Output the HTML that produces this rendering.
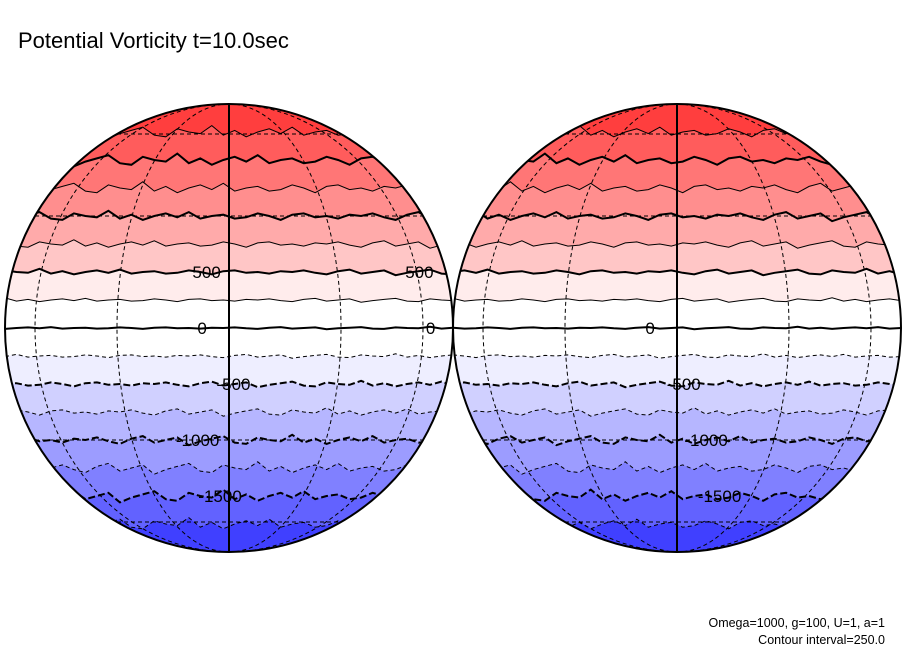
<!DOCTYPE html>
<html><head><meta charset="utf-8"><style>
body{margin:0;background:#fff;}
svg{display:block;font-family:"Liberation Sans",sans-serif;}
</style></head><body>
<svg id="chart" width="904" height="654" viewBox="0 0 904 654">
<text x="18" y="48" font-size="22" fill="#000">Potential Vorticity t=10.0sec</text>
<text x="885" y="627" font-size="12.5" text-anchor="end">Omega=1000, g=100, U=1, a=1</text>
<text x="885" y="644" font-size="12.5" text-anchor="end">Contour interval=250.0</text>
<g id="globes"></g>
</svg>
<script>
// contour levels (PV) and band fill colors (band above each level)
const levels = [1750,1500,1250,1000,750,500,250,0,-250,-500,-750,-1000,-1250,-1500,-1750];
const bandColors = ["#ff3e3e","#ff5c5c","#ff7676","#ff8e8e","#ffaaaa","#ffc6c6","#ffecec","#ffffff","#ffffff","#eeeeff","#d0d0ff","#b6b6ff","#9c9cff","#8080ff","#6262ff","#4040ff"];
const wiggle = [0,-2,1,3,-1,-3,2,0,-2,4,1,-1,-3,2,3,-2,0,1,-4,2,-1,3,0,-2,1,-3,2,0,-1,2,1,-2,0,3,-1,-2,1,0,2,-1];
const labels = [
 {g:0,text:"500",lon:-0.1,lev:500},{g:0,text:"500",lon:0.85,lev:500},
 {g:0,text:"0",lon:-0.12,lev:0},{g:0,text:"0",lon:0.9,lev:0},
 {g:0,text:"-500",lon:0.02,lev:-500},{g:0,text:"-1000",lon:-0.14,lev:-1000},{g:0,text:"-1500",lon:-0.04,lev:-1500},
 {g:1,text:"0",lon:-0.12,lev:0},{g:1,text:"-500",lon:0.03,lev:-500},
 {g:1,text:"-1000",lon:0.13,lev:-1000},{g:1,text:"-1500",lon:0.19,lev:-1500}
];
const pvMax = 2000;
const centers = [229, 677];
const cy = 328, R = 224;
const NS = "http://www.w3.org/2000/svg";
function yOf(lev){ return cy - R*lev/pvMax; }
function el(tag, attrs){ const e=document.createElementNS(NS,tag); for(const k in attrs) e.setAttribute(k,attrs[k]); return e; }
const root = document.getElementById('globes');
centers.forEach((cx, gi) => {
  const g = el('g',{});
  
  
  const cp = el('clipPath',{id:'clip'+gi});
  cp.appendChild(el('circle',{cx:cx,cy:cy,r:R}));
  g.appendChild(cp);
  const inner = el('g',{'clip-path':'url(#clip'+gi+')'});
  g.appendChild(inner);
  const bg = el('rect',{x:cx-R,y:cy-R,width:2*R,height:2*R,fill:bandColors[0]});
  
  
  inner.appendChild(bg);
  const paths = [];
  levels.forEach((lev, li) => {
    const amp = lev === 0 ? 0.3 : Math.min(1.6, 0.3 + Math.abs(lev)/1000);
    const pts = [];
    const n = wiggle.length;
    for (let i=0;i<n;i++){
      const x = cx - R + (2*R)*i/(n-1);
      const w = wiggle[(i + li*3 + gi*7) % n];
      pts.push([x, yOf(lev) + w*amp]);
    }
    const d = pts.map((p,i)=>(i?'L':'M')+p[0].toFixed(1)+' '+p[1].toFixed(1)).join(' ');
    const fill = el('path',{d: d + ` L${cx+R} ${cy+R+2} L${cx-R} ${cy+R+2} Z`, fill: bandColors[li+1]});
    
    
    inner.appendChild(fill);
    paths.push({d, lev});
  });
  [-60,-30,30,60].forEach(lat => {
    const y = cy - R*Math.sin(lat*Math.PI/180);
    const hw = R*Math.cos(lat*Math.PI/180);
    const ln = el('line',{x1:cx-hw,x2:cx+hw,y1:y,y2:y,stroke:'#000','stroke-width':1,'stroke-dasharray':'4,3'});
    
    
    inner.appendChild(ln);
  });
  [-60,-30,30,60].forEach(lon => {
    const rx = Math.abs(R*Math.sin(lon*Math.PI/180));
    const sweep = lon>0?1:0;
    const m = el('path',{d:`M${cx} ${cy-R} A${rx} ${R} 0 0 ${sweep} ${cx} ${cy+R}`,fill:'none',stroke:'#000','stroke-width':1,'stroke-dasharray':'4,3'});
    
    
    inner.appendChild(m);
  });
  paths.forEach(p => {
    const thick = p.lev % 500 === 0;
    const attrs = {d:p.d,fill:'none',stroke:'#000','stroke-width':thick?2:1};
    if (p.lev < 0) attrs['stroke-dasharray'] = thick ? '7,3' : '4,3';
    const c = el('path', attrs);
    
    
    inner.appendChild(c);
  });
  const cm = el('line',{x1:cx,x2:cx,y1:cy-R,y2:cy+R,stroke:'#000','stroke-width':2});
  
  
  inner.appendChild(cm);
  const outline = el('circle',{cx:cx,cy:cy,r:R,fill:'none',stroke:'#000','stroke-width':2});
  
  
  g.appendChild(outline);
  labels.filter(l=>l.g===gi).forEach(l => {
    const t = el('text',{x:cx + R*l.lon, y:yOf(l.lev)+6,'font-size':17,'text-anchor':'middle',fill:'#000'});
    t.textContent = l.text;
    
    
    g.appendChild(t);
  });
  root.appendChild(g);
});
</script>
</body></html>
